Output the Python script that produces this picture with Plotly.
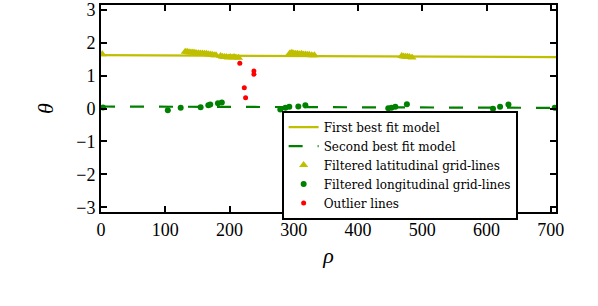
import plotly.graph_objects as go

# Best fit model lines (rho endpoints, theta)
fit_rho = [0, 708]
fit1_theta = [1.62, 1.56]
fit2_theta = [0.06, 0.02]

# Filtered latitudinal grid-lines
lat_rho = [2, 131, 134, 137, 140, 143, 146, 149, 152, 155, 158, 161, 164, 167, 170, 173, 176, 179,
           186, 189, 192, 195, 198, 201, 204, 207, 210, 214,
           294, 297, 300, 303, 306, 309, 312, 315, 318, 321, 324, 328, 332,
           468, 471, 474, 477, 480, 484]
lat_theta = [1.65, 1.72, 1.72, 1.71, 1.70, 1.70, 1.69, 1.68, 1.68, 1.67, 1.67, 1.66, 1.66, 1.65, 1.64, 1.63, 1.62, 1.62,
             1.59, 1.57, 1.56, 1.56, 1.55, 1.56, 1.55, 1.56, 1.55, 1.54,
             1.68, 1.69, 1.67, 1.66, 1.66, 1.65, 1.66, 1.64, 1.64, 1.63, 1.63, 1.62, 1.62,
             1.59, 1.58, 1.57, 1.57, 1.56, 1.55]

# Filtered longitudinal grid-lines
lon_rho = [3, 104, 124, 155, 167, 170, 182, 188, 279, 287, 293, 307, 318, 447, 452, 458, 476, 610, 621, 634, 706]
lon_theta = [0.03, -0.05, 0.02, 0.04, 0.10, 0.12, 0.16, 0.18, -0.03, 0.02, 0.05, 0.06, 0.10, 0.01, 0.02, 0.05, 0.13, -0.01, 0.05, 0.12, 0.02]

# Outlier lines
out_rho = [216, 223, 225, 238, 238]
out_theta = [1.37, 0.63, 0.33, 1.14, 1.04]

YEL = "#bfbf00"
GRN = "#008000"
RED = "#ff0000"
SERIF = "Liberation Serif"
LEGSERIF = "DejaVu Serif"

fig = go.Figure()
fig.add_trace(go.Scatter(x=fit_rho, y=fit1_theta, mode="lines", line=dict(color=YEL, width=2.2),
                         name="First best fit model"))
fig.add_trace(go.Scatter(x=fit_rho, y=fit2_theta, mode="lines", line=dict(color=GRN, width=2.2, dash="14px,15px"),
                         name="Second best fit model"))
fig.add_trace(go.Scatter(x=lat_rho, y=lat_theta, mode="markers",
                         marker=dict(symbol="triangle-up", color=YEL, size=8, line=dict(width=0)),
                         name="Filtered latitudinal grid-lines"))
fig.add_trace(go.Scatter(x=lon_rho, y=lon_theta, mode="markers",
                         marker=dict(symbol="circle", color=GRN, size=6, line=dict(width=0)),
                         name="Filtered longitudinal grid-lines"))
fig.add_trace(go.Scatter(x=out_rho, y=out_theta, mode="markers",
                         marker=dict(symbol="circle", color=RED, size=5, line=dict(width=0)),
                         name="Outlier lines"))

axis_common = dict(showline=True, linecolor="black", linewidth=2, mirror="ticks",
                   ticks="inside", ticklen=6, tickwidth=1.5, tickcolor="black",
                   showgrid=False, zeroline=False, automargin=False,
                   ticklabeloverflow="allow",
                   tickfont=dict(family=SERIF, size=18, color="black"))

fig.update_layout(
    width=598, height=306,
    margin=dict(l=101, r=42, t=5, b=94),
    paper_bgcolor="white", plot_bgcolor="white",
    showlegend=True,
    legend=dict(x=0.397, y=0.49, xanchor="left", yanchor="top",
                bgcolor="white", bordercolor="black", borderwidth=2,
                font=dict(family=LEGSERIF, size=12, color="black"),
                itemwidth=30, tracegroupgap=0),
    xaxis=dict(range=[0, 708], tickvals=[0, 100, 200, 300, 400, 500, 600, 700],
               title=dict(text="<i>ρ</i>", font=dict(family=SERIF, size=22, color="black"), standoff=9),
               **axis_common),
    yaxis=dict(range=[-3.1416, 3.1416], tickvals=[-3, -2, -1, 0, 1, 2, 3],
               title=dict(text="<i>θ</i>", font=dict(family=SERIF, size=22, color="black"), standoff=17),
               **axis_common),
)

fig.write_html("out.html", config={"displayModeBar": False},
               post_script="document.body.style.margin='0';document.body.style.padding='0';")
